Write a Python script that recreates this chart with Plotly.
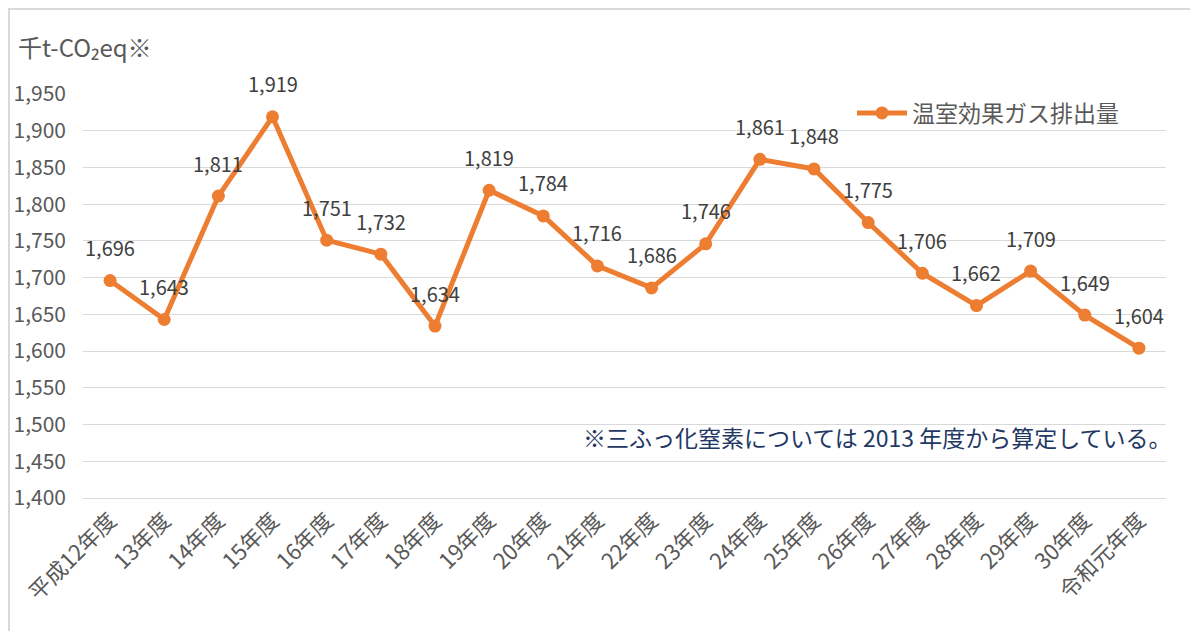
import plotly.graph_objects as go

categories = ["平成12年度", "13年度", "14年度", "15年度", "16年度", "17年度", "18年度",
              "19年度", "20年度", "21年度", "22年度", "23年度", "24年度", "25年度",
              "26年度", "27年度", "28年度", "29年度", "30年度", "令和元年度"]
emissions = [1696, 1643, 1811, 1919, 1751, 1732, 1634, 1819, 1784, 1716,
             1686, 1746, 1861, 1848, 1775, 1706, 1662, 1709, 1649, 1604]
series_name = "温室効果ガス排出量"
unit_label = "千t-CO₂eq※"
note_text = "※三ふっ化窒素については 2013 年度から算定している。"

FONT = "Noto Sans CJK JP, Noto Sans, sans-serif"
ORANGE = "#ED7D31"
GRAY_TXT = "#595959"

OFF = 8  # default page body margin
W, H = 1198 - OFF, 631 - OFF
L, R, T, B = 83 - OFF, 1166 - OFF, 94 - OFF, 498 - OFF

def px_x(p):
    return (p - OFF - L) / (R - L)

def px_y(p):
    return (B - (p - OFF)) / (B - T)

fig = go.Figure()
fig.add_trace(go.Scatter(
    x=categories, y=emissions, mode="lines+markers", name=series_name,
    line=dict(color=ORANGE, width=5),
    marker=dict(color=ORANGE, size=13),
))

annotations = []
for c, v in zip(categories, emissions):
    annotations.append(dict(
        x=c, y=v, xref="x", yref="y", text=f"{v:,}", showarrow=False,
        yshift=33, font=dict(family=FONT, size=20, color="#404040"),
    ))
annotations.append(dict(
    x=px_x(16), y=px_y(47), xref="paper", yref="paper", text=unit_label,
    showarrow=False, xanchor="left", yanchor="middle",
    font=dict(family=FONT, size=24, color=GRAY_TXT),
))
annotations.append(dict(
    x=px_x(877), y=px_y(437), xref="paper", yref="paper", text=note_text,
    showarrow=False, xanchor="center", yanchor="middle",
    font=dict(family=FONT, size=23, color="#1F3864"),
))

fig.update_layout(
    width=W, height=H,
    margin=dict(l=L, r=W - R, t=T, b=H - B, pad=0, autoexpand=False),
    paper_bgcolor="white", plot_bgcolor="white",
    font=dict(family=FONT, color=GRAY_TXT, size=20),
    showlegend=True,
    legend=dict(x=px_x(852), y=px_y(113), xanchor="left", yanchor="middle",
                font=dict(family=FONT, size=23, color=GRAY_TXT),
                itemwidth=50, bgcolor="rgba(0,0,0,0)"),
    annotations=annotations,
    shapes=[dict(type="rect", xref="paper", yref="paper",
                 x0=px_x(9), x1=px_x(1230), y0=px_y(700), y1=px_y(9),
                 line=dict(color="#D9D9D9", width=2), layer="below")],
)
fig.update_xaxes(
    type="category", range=[-0.5, len(categories) - 0.5], automargin=False,
    tickangle=-45, showgrid=False, showline=True, linecolor="#D9D9D9", linewidth=1,
    tickfont=dict(family=FONT, size=22, color=GRAY_TXT), ticks="",
)
fig.update_yaxes(
    range=[1400, 1950], dtick=50, tick0=1400, tickformat=",", automargin=False,
    showgrid=True, gridcolor="#D9D9D9", gridwidth=1, zeroline=False,
    showline=False, ticks="", ticklabelstandoff=16,
    tickfont=dict(family=FONT, size=21, color=GRAY_TXT),
)

fig.write_html("out.html")
